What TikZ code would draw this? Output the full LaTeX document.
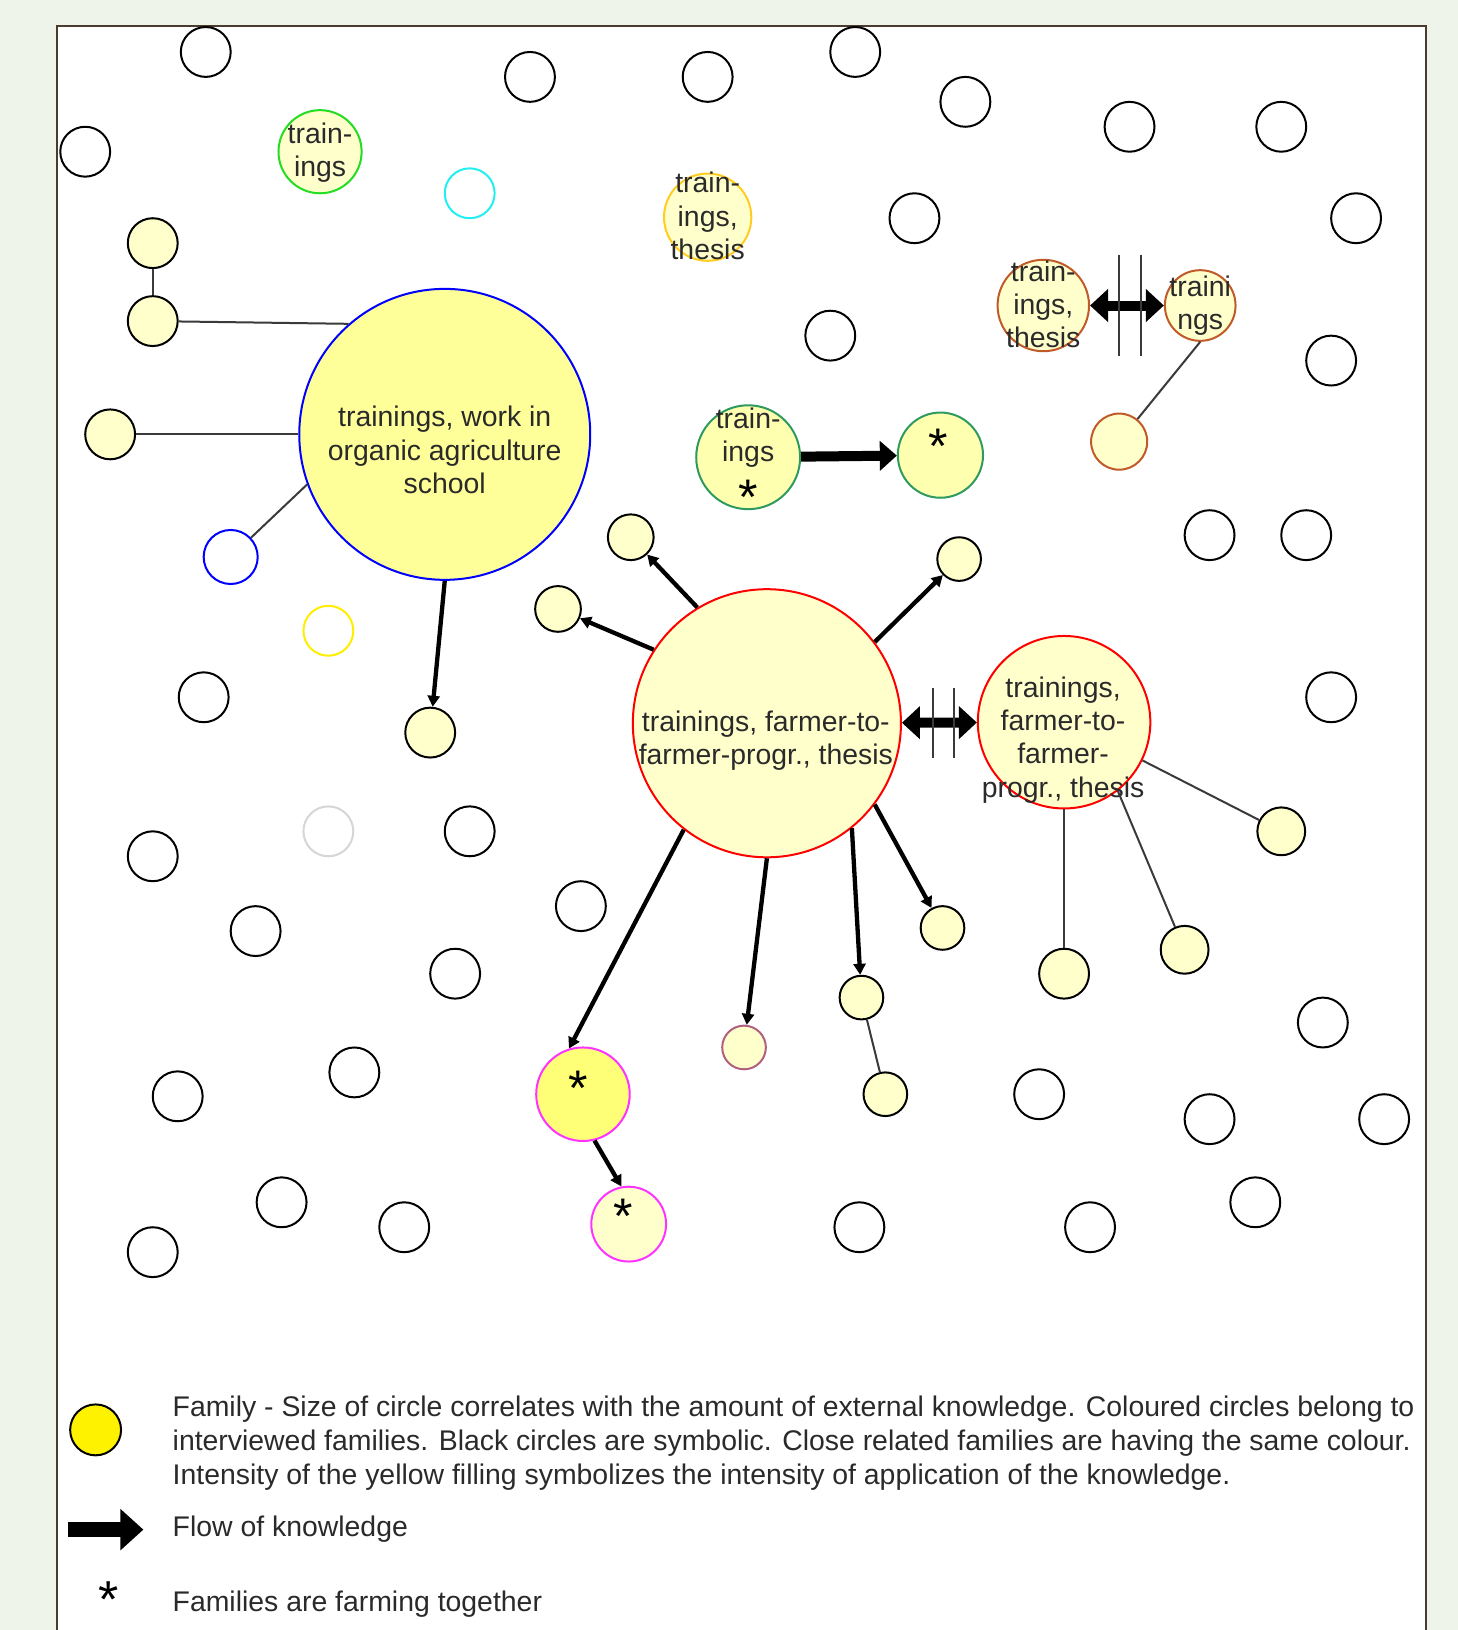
\documentclass[tikz,border=0pt]{standalone}
\usepackage{fontspec}
\setmainfont{Liberation Sans}
\usetikzlibrary{arrows.meta}
\definecolor{bgc}{HTML}{EEF4EA}
\definecolor{framec}{HTML}{4A3B2E}
\definecolor{lfill}{HTML}{FFFFCC}
\definecolor{bfill}{HTML}{FFFF99}
\definecolor{gfill}{HTML}{FFFFB0}
\definecolor{pfill}{HTML}{FFFF77}
\definecolor{txt}{HTML}{2A2A2A}
\definecolor{lineg}{HTML}{3A3A3A}
\definecolor{grn}{HTML}{22DD22}
\definecolor{dgrn}{HTML}{2E9A60}
\definecolor{gold}{HTML}{FFCC22}
\definecolor{brn}{HTML}{C05A28}
\definecolor{mgt}{HTML}{FF33FF}
\definecolor{mauve}{HTML}{B06080}
\definecolor{cyn}{HTML}{22F0F0}
\definecolor{ylo}{HTML}{FFEE00}
\definecolor{lgr}{HTML}{D6D6D6}
\begin{document}
\begin{tikzpicture}[x=1.0392pt,y=-1.0392pt,
  circ/.style={circle, inner sep=0pt, line width=2pt, minimum size={2*#1*1.0392pt}},
  bk/.style={circ=#1, draw=black},
  bk/.default=24,
  fy/.style={circ=#1, draw=black, fill=lfill},
  fy/.default=22,
  lbl/.style={inner sep=0pt, align=center, text=txt, font=\fontsize{28.4}{33.3}\selectfont},
  leg/.style={inner sep=0pt, align=left, anchor=west, text=txt, font=\fontsize{28.4}{34}\selectfont},
  flow/.style={line width=4.3pt, draw=black, -{Triangle[length=11pt,width=12pt]}},
  bigflow/.style={line width=10pt, draw=black, -{Triangle[length=17pt,width=29pt]}},
  dblflow/.style={line width=10pt, draw=black, {Triangle[length=18pt,width=32pt]}-{Triangle[length=18pt,width=32pt]}},
  conn/.style={line width=2pt, draw=lineg},
  sepbar/.style={line width=2.2pt, draw=lineg},
  astk/.style={inner sep=0pt, anchor=base, text=black, font=\fontsize{50}{50}\selectfont}
]
% background and frame
\useasboundingbox (0,0) rectangle (1403,1568.6);
\fill[bgc] (0,0) rectangle (1403,1568.6);
\fill[white] (55,25) rectangle (1372,1568.6);
\draw[framec, line width=2pt] (55,1568.6) -- (55,25) -- (1372,25) -- (1372,1568.6);

% symbolic black circles
\node[bk] (e1) at (198,50) {};
\node[bk] (e2) at (510,74) {};
\node[bk] (e3) at (681,74) {};
\node[bk] (e4) at (823,50) {};
\node[bk] (e5) at (929,98) {};
\node[bk] (e6) at (1087,122) {};
\node[bk] (e7) at (1233,122) {};
\node[bk] (e8) at (82,146) {};
\node[bk] (e9) at (880,210) {};
\node[bk] (e10) at (1305,210) {};
\node[bk] (e11) at (799,323) {};
\node[bk] (e12) at (1281,347) {};
\node[bk] (e13) at (1164,515) {};
\node[bk] (e14) at (1257,515) {};
\node[bk] (e15) at (196,671) {};
\node[bk] (e16) at (1281,671) {};
\node[bk] (e17) at (147,824) {};
\node[bk] (e18) at (452,800) {};
\node[bk] (e19) at (246,896) {};
\node[bk] (e20) at (559,872) {};
\node[bk] (e21) at (438,937) {};
\node[bk] (e22) at (1273,984) {};
\node[bk] (e23) at (171,1055) {};
\node[bk] (e24) at (341,1032) {};
\node[bk] (e25) at (1000,1053) {};
\node[bk] (e26) at (1164,1077) {};
\node[bk] (e27) at (1332,1077) {};
\node[bk] (e28) at (271,1157) {};
\node[bk] (e29) at (389,1181) {};
\node[bk] (e30) at (147,1205) {};
\node[bk] (e31) at (827,1181) {};
\node[bk] (e32) at (1049,1181) {};
\node[bk] (e33) at (1208,1157) {};

% coloured empty circles
\node[circ=24, draw=cyn] (cy) at (452,186) {};
\node[circ=26, draw=blue] (bl) at (222,536) {};
\node[circ=24, draw=ylo] (yl) at (316,607) {};
\node[circ=24, draw=lgr] (gr) at (316,800) {};

% big families
\node[circ=140, draw=blue, fill=bfill] (B) at (428,418) {};
\node[lbl] (Bt) at (428,433) {trainings, work in\\organic agriculture\\school};
\node[circ=129, draw=red, fill=lfill] (M) at (738,696) {};
\node[lbl] (Mt) at (737,713) {trainings, farmer-to-\\farmer-progr., thesis};
\node[circ=83, draw=red, fill=lfill] (R) at (1024,695) {};
\node[lbl] (Rt) at (1023,712) {trainings,\\farmer-to-\\farmer-\\progr., thesis};

% smaller labelled families
\node[circ=40, draw=grn, fill=lfill] (G1) at (308,146) {};
\node[lbl] (G1t) at (308,147) {train-\\ings};
\node[circ=42, draw=gold, fill=lfill] (Y1) at (681,209) {};
\node[lbl] (Y1t) at (681,208) {train-\\ings,\\thesis};
\node[circ=44, draw=brn, fill=lfill] (O1) at (1004,294) {};
\node[lbl] (O1t) at (1004,293) {train-\\ings,\\thesis};
\node[circ=34, draw=brn, fill=lfill] (O2) at (1155,294) {};
\node[lbl] (O2t) at (1155,294) {traini\\ngs};
\node[circ=27, draw=brn, fill=lfill] (O3) at (1077,425) {};
\node[circ=50, draw=dgrn, fill=gfill] (G2) at (720,440) {};
\node[lbl] (G2t) at (720,421) {train-\\ings};
\node[astk] (G2s) at (720,495) {*};
\node[circ=41, draw=dgrn, fill=gfill] (G3) at (905,438) {};
\node[astk] (G3s) at (903,446) {*};
\node[circ=45, draw=mgt, fill=pfill] (P1) at (561,1053) {};
\node[astk] (P1s) at (556,1064) {*};
\node[circ=36, draw=mgt, fill=lfill] (P2) at (605,1178) {};
\node[astk] (P2s) at (600,1187) {*};
\node[circ=21, draw=mauve, fill=lfill] (mv) at (716,1008) {};

% small filled families
\node[fy=24] (a1) at (147,234) {};
\node[fy=24] (a2) at (147,309) {};
\node[fy=24] (a3) at (106,418) {};
\node[fy=24] (a4) at (414,705) {};
\node[fy=22] (a5) at (607,517) {};
\node[fy=22] (a6) at (537,586) {};
\node[fy=21] (a7) at (923,538) {};
\node[fy=21] (a8) at (907,893) {};
\node[fy=21] (a9) at (829,960) {};
\node[fy=21] (a10) at (852,1053) {};
\node[fy=24] (a11) at (1024,937) {};
\node[fy=23] (a12) at (1140,914) {};
\node[fy=23] (a13) at (1233,800) {};

% plain relations
\draw[conn] (a1) -- (a2);
\draw[conn] (a2) -- (B.131.5);
\draw[conn] (a3) -- (B.west);
\draw[conn] (bl) -- (B.200);
\draw[conn] (a9) -- (a10);
\draw[conn] (O2.south) -- (O3);
\draw[conn] (R.south) -- (a11);
\draw[conn] (R.308) -- (a12);
\draw[conn] (R.334) -- (a13);

% knowledge flows
\draw[flow] (B.south) -- (a4);
\draw[flow] (M.121) -- (a5);
\draw[flow] (M.147) -- (a6);
\draw[flow] (M.37) -- (a7);
\draw[flow] (M.323) -- (a8);
\draw[flow] (M.309) -- (a9);
\draw[flow] (M.270) -- (mv);
\draw[flow] (M.232) -- (P1.107);
\draw[flow] (P1.284) -- (P2.101);
\draw[bigflow] (G2) -- (G3);
\draw[dblflow] (M) -- (R);
\draw[dblflow] (O1) -- (O2);

% separation bars
\draw[sepbar] (897.5,662) -- (897.5,729);
\draw[sepbar] (918,662) -- (918,729);
\draw[sepbar] (1077,245) -- (1077,343);
\draw[sepbar] (1098,245) -- (1098,343);

% legend
\node[circ=24.5, draw=black, fill=yellow] (lg) at (92,1376) {};
\node[leg] (lgt) at (166,1389) {Family - Size of circle correlates with the amount of external knowledge. Coloured circles belong to\\interviewed families. Black circles are symbolic. Close related families are having the same colour.\\Intensity of the yellow filling symbolizes the intensity of application of the knowledge.};
\coordinate (la1) at (65,1472);
\coordinate (la2) at (138,1472);
\draw[line width=15pt, -{Triangle[length=23pt,width=40pt]}] (la1) -- (la2);
\node[leg] (lft) at (166,1472) {Flow of knowledge};
\node[astk, font=\fontsize{52}{52}\selectfont] (ls) at (105,1557) {*};
\node[leg] (lst) at (166,1544) {Families are farming together};
\end{tikzpicture}
\end{document}
